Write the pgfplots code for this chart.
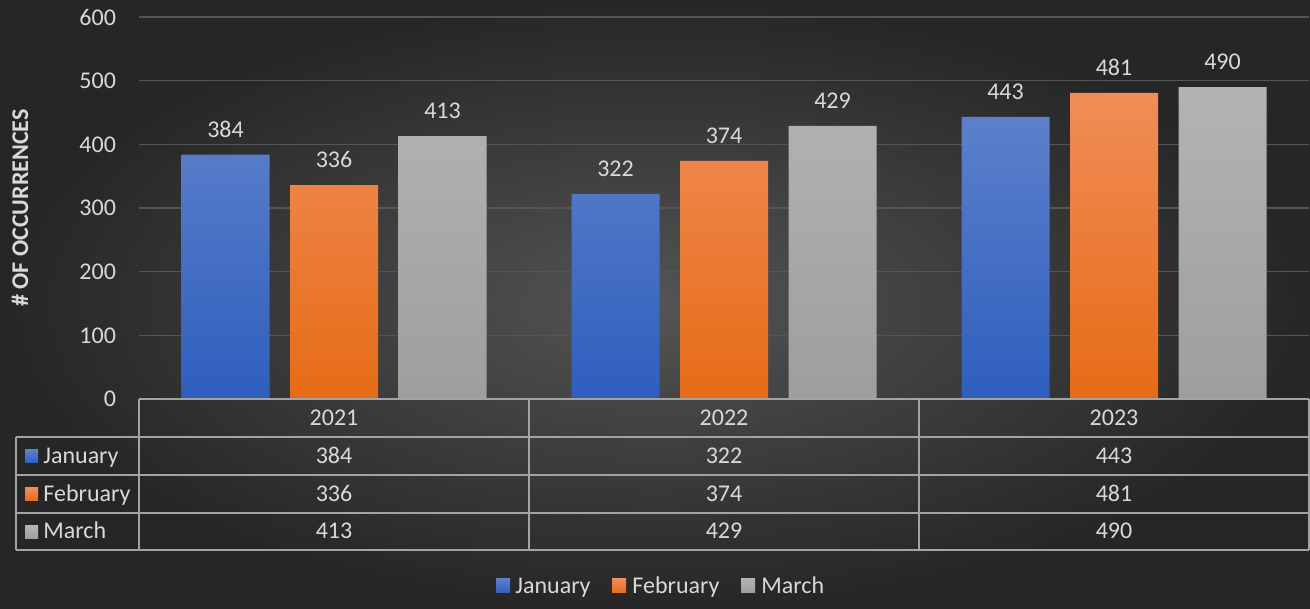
\documentclass[border=0pt]{standalone}
\usepackage{pgfplots}
\pgfplotsset{compat=1.18}
\usepackage{fontspec}
\setmainfont{Carlito}
\definecolor{bgin}{HTML}{545454}
\definecolor{bgout}{HTML}{262626}
\definecolor{txt}{HTML}{D9D9D9}
\definecolor{gridc}{HTML}{555555}
\definecolor{tline}{HTML}{A3A3A3}
\definecolor{janT}{HTML}{5C80CA}
\definecolor{janB}{HTML}{2E5EBE}
\definecolor{febT}{HTML}{F18D57}
\definecolor{febB}{HTML}{E66B16}
\definecolor{marT}{HTML}{B3B3B3}
\definecolor{marB}{HTML}{9E9E9E}
\newcommand{\fs}{\fontsize{12}{14}\selectfont}
\begin{document}
\begin{tikzpicture}[x=1pt,y=1pt]
\useasboundingbox (0,0) rectangle (655,304.5);
\shade[inner color=bgin, outer color=bgout] (0,0) rectangle (655,304.5);
\begin{axis}[
  at={(69.5pt,105pt)}, anchor=south west, scale only axis,
  width=585pt, height=191pt,
  xmin=-0.5, xmax=2.5, ymin=0, ymax=600,
  ytick={0,100,...,600},
  xtick=\empty,
  axis line style={draw=none},
  major tick length=0pt,
  ymajorgrids, grid style={draw=gridc, line width=0.8pt},
  ybar=10.25pt, bar width=44pt,
  yticklabel style={font=\fs, text=txt, xshift=-8pt},
  /pgf/number format/assume math mode=true,
  ylabel={\# OF OCCURRENCES},
  every axis y label/.style={at={(rel axis cs:-0.1017,0.5)}, anchor=center, rotate=90, font=\fontsize{12}{14}\selectfont\bfseries, text=txt},
  nodes near coords,
  every node near coord/.append style={font=\fs, text=txt, yshift=5pt},
  clip=false,
]
\addplot[draw=none, top color=janT, bottom color=janB] coordinates {(0,384) (1,322) (2,443)};
\addplot[draw=none, top color=febT, bottom color=febB] coordinates {(0,336) (1,374) (2,481)};
\addplot[draw=none, top color=marT, bottom color=marB] coordinates {(0,413) (1,429) (2,490)};
\end{axis}
% data table
\begin{scope}[draw=tline, line width=0.9pt]
\draw (69.5,105) -- (654.5,105);
\draw (8,86) -- (654.5,86);
\draw (8,67) -- (654.5,67);
\draw (8,48) -- (654.5,48);
\draw (8,29.5) -- (654.5,29.5);
\draw (8,86) -- (8,29.5);
\draw (69.5,105) -- (69.5,29.5);
\draw (264.5,105) -- (264.5,29.5);
\draw (459.5,105) -- (459.5,29.5);
\draw (654.5,105) -- (654.5,29.5);
\end{scope}
\begin{scope}[every node/.style={font=\fs, text=txt, inner sep=0pt, anchor=base}]
\node at (167,91.7) {2021};
\node at (362,91.7) {2022};
\node at (557,91.7) {2023};
\node at (167,72.7) {384};
\node at (362,72.7) {322};
\node at (557,72.7) {443};
\node at (167,53.7) {336};
\node at (362,53.7) {374};
\node at (557,53.7) {481};
\node at (167,35) {413};
\node at (362,35) {429};
\node at (557,35) {490};
\shade[top color=janT, bottom color=janB] (12.5,73) rectangle (19,79.5);
\shade[top color=febT, bottom color=febB] (12.5,54) rectangle (19,60.5);
\shade[top color=marT, bottom color=marB] (12.5,35) rectangle (19,41.5);
\node[anchor=base west] at (21.5,72.7) {January};
\node[anchor=base west] at (21.5,53.7) {February};
\node[anchor=base west] at (21.5,35) {March};
% legend
\shade[top color=janT, bottom color=janB] (248,8) rectangle (255,15);
\node[anchor=base west] at (257.5,7.7) {January};
\shade[top color=febT, bottom color=febB] (306,8) rectangle (313,15);
\node[anchor=base west] at (316,7.7) {February};
\shade[top color=marT, bottom color=marB] (370.5,8) rectangle (377.5,15);
\node[anchor=base west] at (380.5,7.7) {March};
\end{scope}
\end{tikzpicture}
\end{document}
